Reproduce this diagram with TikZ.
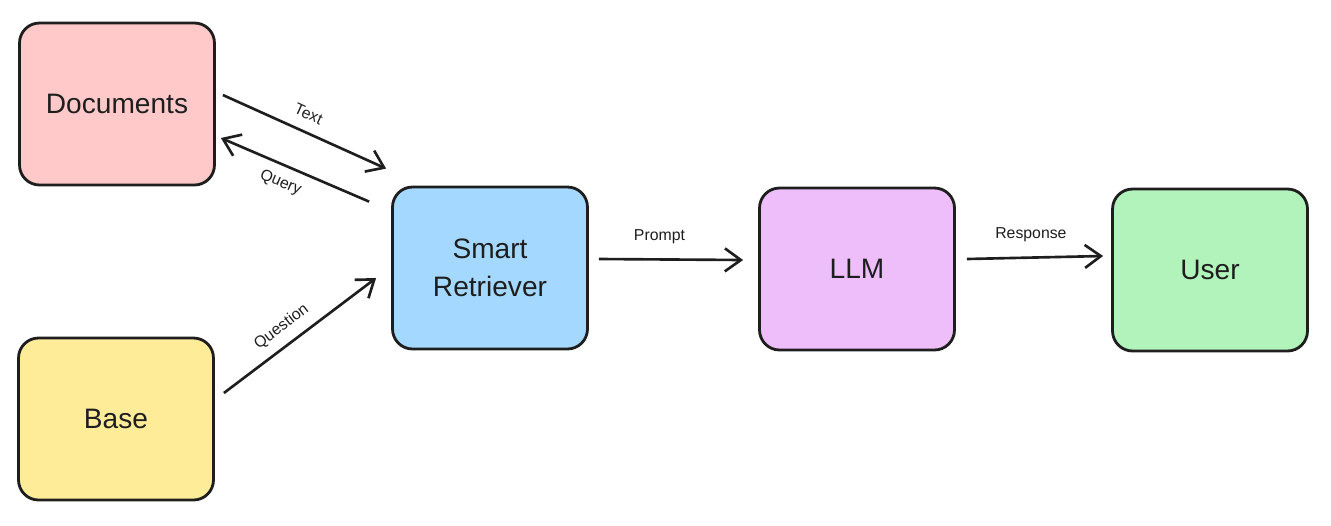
\documentclass[tikz,border=0pt]{standalone}
\usepackage{fontspec}
\setmainfont{Liberation Sans}
\usetikzlibrary{arrows.meta,calc}

\definecolor{docred}{HTML}{FFC9C9}
\definecolor{baseyellow}{HTML}{FFEC99}
\definecolor{retrblue}{HTML}{A5D8FF}
\definecolor{llmviolet}{HTML}{EEBEFA}
\definecolor{usergreen}{HTML}{B2F2BB}
\definecolor{inkgray}{HTML}{1E1E1E}

\begin{document}
\begin{tikzpicture}[x=0.02cm, y=-0.02cm,
    % Styles
    block/.style={draw=inkgray, line width=1.6pt, rounded corners=0.4cm, minimum width=3.9cm, minimum height=3.24cm, align=center, font=\fontsize{16}{21.5}\selectfont, text=inkgray},
    flow/.style={-{Straight Barb[length=3.2mm, width=4.6mm, line width=1.5pt]}, line width=1.5pt, draw=inkgray},
    tag/.style={font=\fontsize{9}{11}\selectfont, text=inkgray},
]
\useasboundingbox (0,0) rectangle (1331,525);

% Sources
\node[block, fill=docred] (docs) at (117,104) {Documents};
\node[block, fill=baseyellow] (base) at (116,419) {Base};

% Pipeline
\node[block, fill=retrblue] (retr) at (490,268) {Smart\\Retriever};
\node[block, fill=llmviolet] (llm) at (857,269) {LLM};
\node[block, fill=usergreen] (user) at (1210,270) {User};

% Connectors
\draw[flow] ($(docs.east)+(7,-9)$) -- node[tag, sloped, above=3pt, pos=0.48] {Text} ($(retr.north west)+(-5,-17)$);
\draw[flow] ($(retr.north west)+(-22,16)$) -- node[tag, sloped, below=2pt, pos=0.55] {Query} ($(docs.east)+(5,34)$);
\draw[flow] ($(base.east)+(9,-26)$) -- node[tag, sloped, above=2pt, pos=0.45] {Question} ($(retr.west)+(-15,10)$);
\draw[flow] ($(retr.east)+(10,-9)$) -- node[tag, above=5pt, pos=0.42] {Prompt} ($(llm.west)+(-15,-9)$);
\draw[flow] ($(llm.east)+(11,-10)$) -- node[tag, above=5pt, pos=0.47] {Response} ($(user.west)+(-8,-14)$);

\end{tikzpicture}
\end{document}
